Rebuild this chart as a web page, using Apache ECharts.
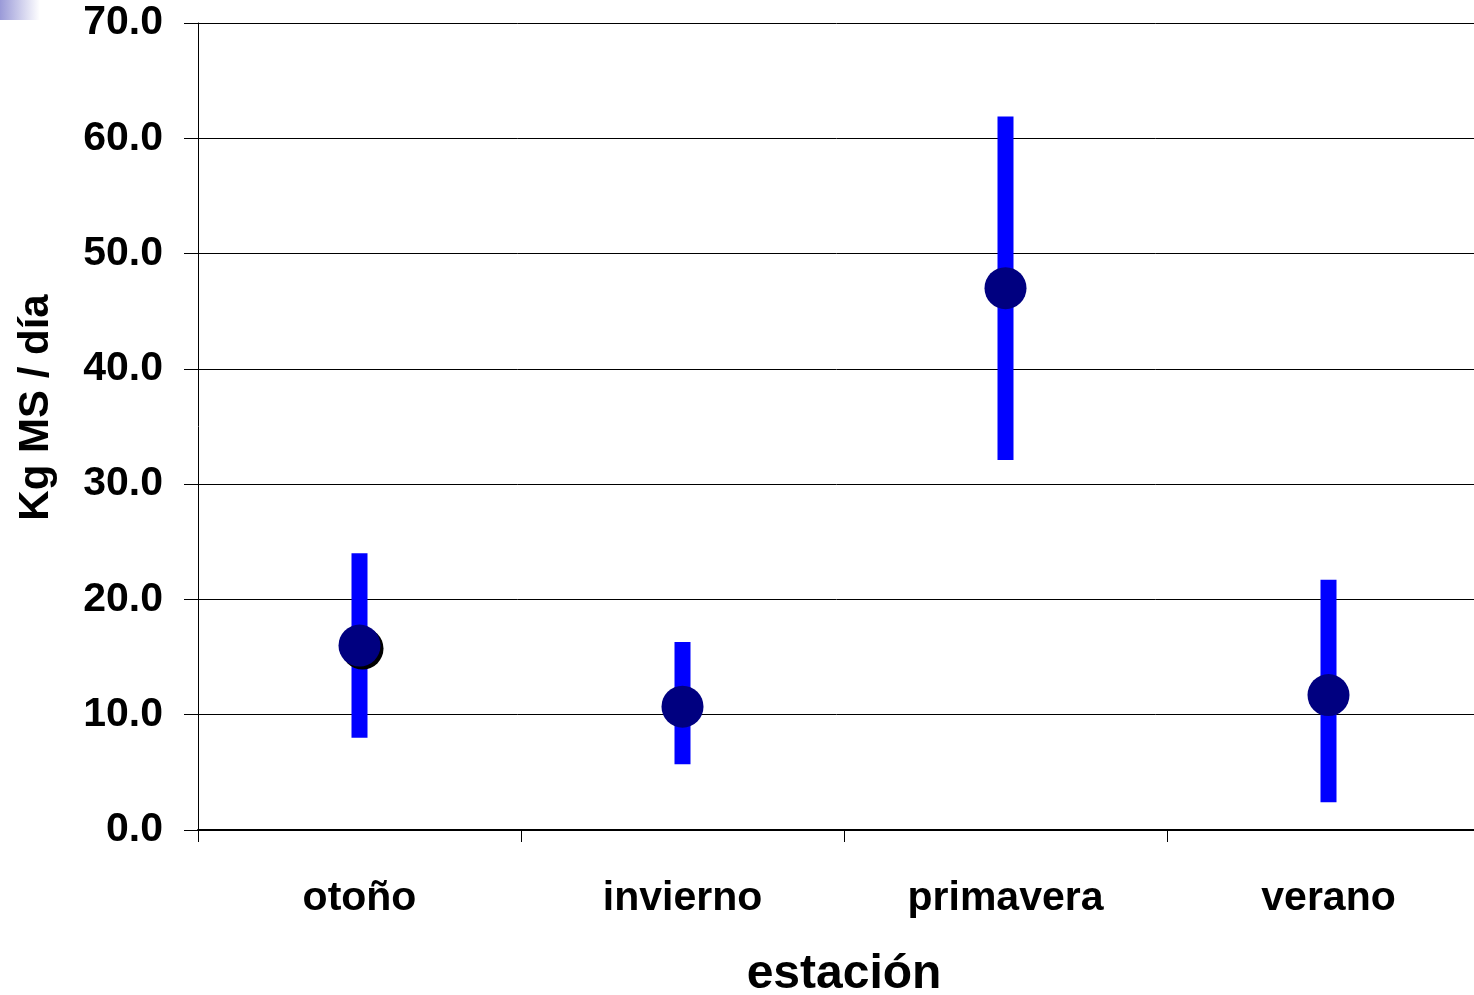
<!DOCTYPE html>
<html>
<head>
<meta charset="utf-8">
<script src="https://cdn.jsdelivr.net/npm/echarts@6/dist/echarts.min.js"></script>
<style>
html,body{margin:0;padding:0;background:#fff;}
#chart{width:1474px;height:995px;}
</style>
</head>
<body>
<div id="chart"></div>
<script>
const categories = ['otoño', 'invierno', 'primavera', 'verano'];
const means = [16.0, 10.7, 47.0, 11.7];
const lows = [8.0, 5.7, 32.1, 2.4];
const highs = [24.0, 16.3, 61.9, 21.7];
const shadowMeans = [16.0, null, null, null];
const yTicks = [0, 10, 20, 30, 40, 50, 60, 70];

const FONT = '"Liberation Sans", Arial, sans-serif';
const chart = echarts.init(document.getElementById('chart'), null, {renderer: 'canvas'});

const errData = categories.map((c, i) => [i, lows[i], highs[i]]);

chart.setOption({
  animation: false,
  backgroundColor: '#ffffff',
  graphic: [{
    type: 'rect',
    left: 0, top: 0,
    shape: {width: 40, height: 20},
    style: {
      fill: new echarts.graphic.LinearGradient(0, 0, 1, 0, [
        {offset: 0, color: '#9a9ad8'},
        {offset: 1, color: '#ffffff'}
      ])
    },
    z: 0
  }],
  grid: {left: 198, right: -16, top: 23, bottom: 165, containLabel: false, outerBoundsMode: 'none'},
  xAxis: {
    type: 'category',
    data: categories,
    boundaryGap: true,
    name: 'estación',
    nameLocation: 'middle',
    nameGap: 121,
    nameTextStyle: {fontFamily: FONT, fontWeight: 'bold', fontSize: 48, color: '#000'},
    axisLine: {show: true, lineStyle: {color: '#000', width: 2}},
    axisTick: {show: true, length: 12, lineStyle: {color: '#000', width: 1}},
    axisLabel: {fontFamily: FONT, fontWeight: 'bold', fontSize: 41, color: '#000', margin: 48},
    splitLine: {show: false}
  },
  yAxis: {
    type: 'value',
    min: yTicks[0],
    max: yTicks[yTicks.length - 1],
    interval: 10,
    name: 'Kg MS / día',
    nameLocation: 'middle',
    nameGap: 141,
    nameRotate: 90,
    nameTextStyle: {fontFamily: FONT, fontWeight: 'bold', fontSize: 42, color: '#000', padding: [0, 0, 0, 38]},
    axisLine: {show: true, lineStyle: {color: '#000', width: 1}},
    axisTick: {show: true, length: 14, lineStyle: {color: '#000', width: 1}},
    axisLabel: {fontFamily: FONT, fontWeight: 'bold', fontSize: 41, color: '#000', margin: 35,
      formatter: v => v.toFixed(1)},
    splitLine: {show: true, lineStyle: {color: '#000', width: 1}}
  },
  series: [
    {
      type: 'custom',
      name: 'rango',
      data: errData,
      z: 2,
      renderItem: function (params, api) {
        const x = api.value(0);
        const lo = api.coord([x, api.value(1)]);
        const hi = api.coord([x, api.value(2)]);
        const w = 16;
        return {
          type: 'rect',
          shape: {x: lo[0] - w / 2, y: hi[1], width: w, height: lo[1] - hi[1]},
          style: {fill: '#0000ff'}
        };
      },
      encode: {x: 0, y: [1, 2]}
    },
    {
      type: 'scatter',
      name: 'sombra',
      data: shadowMeans,
      symbol: 'circle',
      symbolSize: 42,
      symbolOffset: [3, 3],
      itemStyle: {color: '#000000', opacity: 1},
      z: 3
    },
    {
      type: 'scatter',
      name: 'media',
      data: means,
      symbol: 'circle',
      symbolSize: 42,
      itemStyle: {color: '#000080', opacity: 1},
      z: 4
    }
  ]
});
</script>
</body>
</html>
